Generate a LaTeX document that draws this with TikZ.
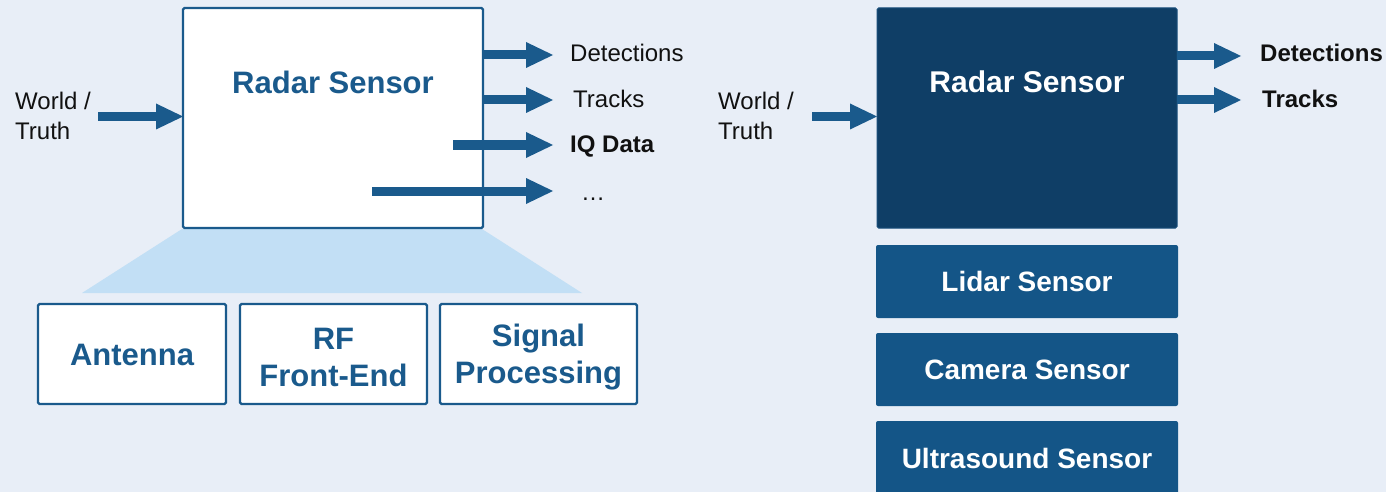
\documentclass[tikz,border=0pt]{standalone}
\usepackage{fontspec}
\setmainfont{Liberation Sans}
\usetikzlibrary{arrows.meta}
\definecolor{bgcol}{HTML}{E8EEF7}
\definecolor{fancol}{HTML}{C2DFF5}
\definecolor{mwblue}{HTML}{1A5A8C}
\definecolor{navy}{HTML}{0F3E66}
\definecolor{navyedge}{HTML}{1A4F7C}
\definecolor{sensorcol}{HTML}{145587}
\definecolor{labelcol}{HTML}{111111}
\tikzset{
  blockwhite/.style={draw=mwblue, line width=2.4pt, fill=white, rounded corners=1.5pt,
    outer sep=0pt, inner sep=0pt},
  blocktext/.style={text=mwblue, font=\fontsize{31}{37}\selectfont\bfseries, align=center},
  sensorbox/.style={fill=sensorcol, rounded corners=2pt, outer sep=0pt, inner sep=0pt},
  sensortext/.style={text=white, font=\fontsize{28}{34}\selectfont\bfseries},
  fatarrow/.style={draw=mwblue, line width=9pt,
    -{Triangle[length=27pt,width=26pt,line width=0pt]}},
  sigtext/.style={text=labelcol, font=\fontsize{24}{30}\selectfont, inner sep=0pt},
  sigbold/.style={sigtext, font=\fontsize{24}{30}\selectfont\bfseries},
}
\begin{document}
\begin{tikzpicture}[x=1pt,y=-1pt]
\useasboundingbox (0,0) rectangle (1386,492);
\fill[bgcol] (0,0) rectangle (1386,492);

% ---------- left: radar sensor broken into its parts ----------
\fill[fancol] (182,229) -- (482,229) -- (582,293) -- (82,293) -- cycle;

\node[blockwhite, minimum width=300pt, minimum height=220pt, anchor=north west]
  (radarL) at (183,8) {};
\node[blocktext] (radarLtext) at (333,82) {Radar Sensor};

\node[blockwhite, minimum width=188pt, minimum height=100pt, anchor=north west]
  (antenna) at (38,304) {};
\node[blocktext] at ([yshift=-1pt]antenna.center) {Antenna};
\node[blockwhite, minimum width=187pt, minimum height=100pt, anchor=north west]
  (rffe) at (240,304) {};
\node[blocktext] at ([yshift=-3pt]rffe.center) {RF\\Front-End};
\node[blockwhite, minimum width=197pt, minimum height=100pt, anchor=north west]
  (sigproc) at (440,304) {};
\node[blocktext] at ([yshift=-3pt]sigproc.center) {Signal\\Processing};

\node[sigtext, align=left, anchor=west] (worldL) at (15,115.5) {World /\\Truth};

\coordinate (inL) at (98,116.5);
\draw[fatarrow] (inL) -- (radarL.west |- inL);

\coordinate (detL) at (553,55);
\coordinate (trkL) at (553,100);
\coordinate (iqS) at (453,145);
\coordinate (iqL) at (553,145);
\coordinate (moreS) at (372,191);
\coordinate (moreL) at (553,191);
\draw[fatarrow] (radarL.east |- detL) -- (detL);
\draw[fatarrow] (radarL.east |- trkL) -- (trkL);
\draw[fatarrow] (iqS) -- (iqL);
\draw[fatarrow] (moreS) -- (moreL);

\node[sigtext, anchor=base west] (detLtext) at (570,62) {Detections};
\node[sigtext, anchor=base west] (trkLtext) at (573,108) {Tracks};
\node[sigbold, anchor=base west] (iqtext) at (570,153) {IQ Data};
\node[sigtext, anchor=base west] (moretext) at (581,200) {\dots};

% ---------- right: radar sensor among the other sensors ----------
\node[fill=navy, draw=navyedge, line width=1pt, rounded corners=1.5pt, outer sep=0pt,
  minimum width=300pt, minimum height=220pt, anchor=north west] (radarR) at (877,8) {};
\node[sensortext, font=\fontsize{30}{36}\selectfont\bfseries] (radarRtext) at (1027,82) {Radar Sensor};

\node[sensorbox, minimum width=302pt, minimum height=73pt, anchor=north west]
  (lidar) at (876,245) {};
\node[sensortext] at (lidar.center) {Lidar Sensor};
\node[sensorbox, minimum width=302pt, minimum height=73pt, anchor=north west]
  (camera) at (876,333) {};
\node[sensortext] at (camera.center) {Camera Sensor};
\node[sensorbox, minimum width=302pt, minimum height=76pt, anchor=north west]
  (ultra) at (876,421) {};
\node[sensortext] at (1027,458) {Ultrasound Sensor};

\node[sigtext, align=left, anchor=west] (worldR) at (718,115.5) {World /\\Truth};

\coordinate (inR) at (812,116.5);
\draw[fatarrow] (inR) -- (radarR.west |- inR);

\coordinate (detR) at (1241,56);
\coordinate (trkR) at (1241,100);
\draw[fatarrow] (radarR.east |- detR) -- (detR);
\draw[fatarrow] (radarR.east |- trkR) -- (trkR);

\node[sigbold, anchor=base west] (detRtext) at (1260,62) {Detections};
\node[sigbold, anchor=base west] (trkRtext) at (1262,108) {Tracks};
\end{tikzpicture}
\end{document}
